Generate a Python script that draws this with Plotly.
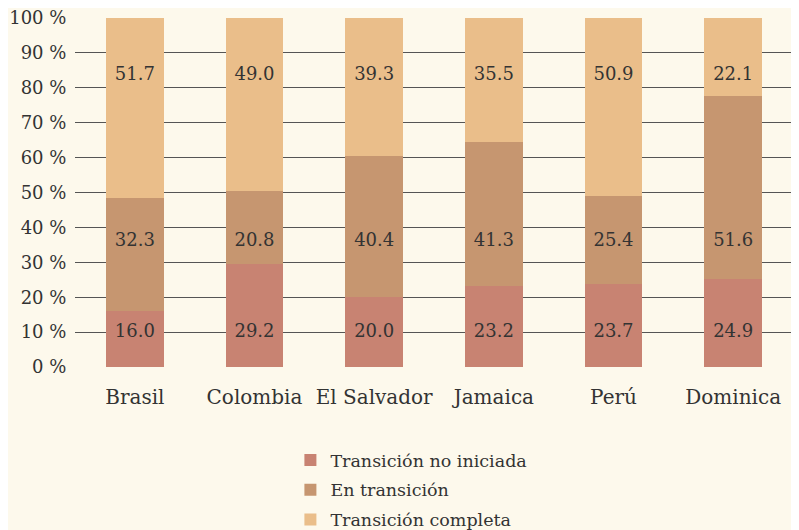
import plotly.graph_objects as go

# data
countries = ["Brasil", "Colombia", "El Salvador", "Jamaica", "Perú", "Dominica"]
no_iniciada = [16.0, 29.2, 20.0, 23.2, 23.7, 24.9]
en_transicion = [32.3, 20.8, 40.4, 41.3, 25.4, 51.6]
completa = [51.7, 49.0, 39.3, 35.5, 50.9, 22.1]
series_names = ["Transición no iniciada", "En transición", "Transición completa"]

colors = ["#C88372", "#C69670", "#EABE8A"]
label_levels = [10, 36, 83.5]  # fixed heights where the value labels sit
FONT = "DejaVu Serif"
BG = "#FDF9EC"

fig = go.Figure()
for i, (name, vals, col) in enumerate(zip(series_names, [no_iniciada, en_transicion, completa], colors)):
    fig.add_trace(go.Bar(x=countries, y=vals, name=name, legendgroup=f"g{i}",
                         marker=dict(color=col, line=dict(width=0)),
                         width=0.48))

# value labels at fixed heights
for vals, lvl in zip([no_iniciada, en_transicion, completa], label_levels):
    fig.add_trace(go.Scatter(x=countries, y=[lvl] * len(countries),
                             text=[f"{v:.1f}" for v in vals],
                             mode="text", showlegend=False, hoverinfo="skip",
                             textfont=dict(family=FONT, size=18, color="#333333")))

# page body keeps an 8px margin, so margins are shifted up/left to compensate
fig.update_layout(
    width=799, height=530,
    barmode="stack", barnorm="percent",
    paper_bgcolor=BG, plot_bgcolor=BG,
    margin=dict(l=67, r=14, t=10, b=171, autoexpand=False),
    font=dict(family=FONT, size=17, color="#333333"),
    showlegend=True,
    legend=dict(orientation="v", x=0.30, xanchor="left", y=-0.215, yanchor="top",
                font=dict(family=FONT, size=17.5, color="#333333"),
                traceorder="grouped", tracegroupgap=4, bgcolor="rgba(0,0,0,0)"),
    xaxis=dict(showgrid=False, showline=False, zeroline=False,
               ticks="outside", ticklen=12, tickcolor="rgba(0,0,0,0)",
               tickfont=dict(family=FONT, size=20, color="#333333")),
    yaxis=dict(range=[0, 100], dtick=10, ticksuffix=" %",
               ticklabeloverflow="allow",
               showgrid=True, gridcolor="#555555", gridwidth=1,
               zeroline=False, showline=False,
               ticks="outside", ticklen=4, tickcolor="rgba(0,0,0,0)",
               tickfont=dict(family=FONT, size=18, color="#333333")),
)

fig.write_html("out.html")
